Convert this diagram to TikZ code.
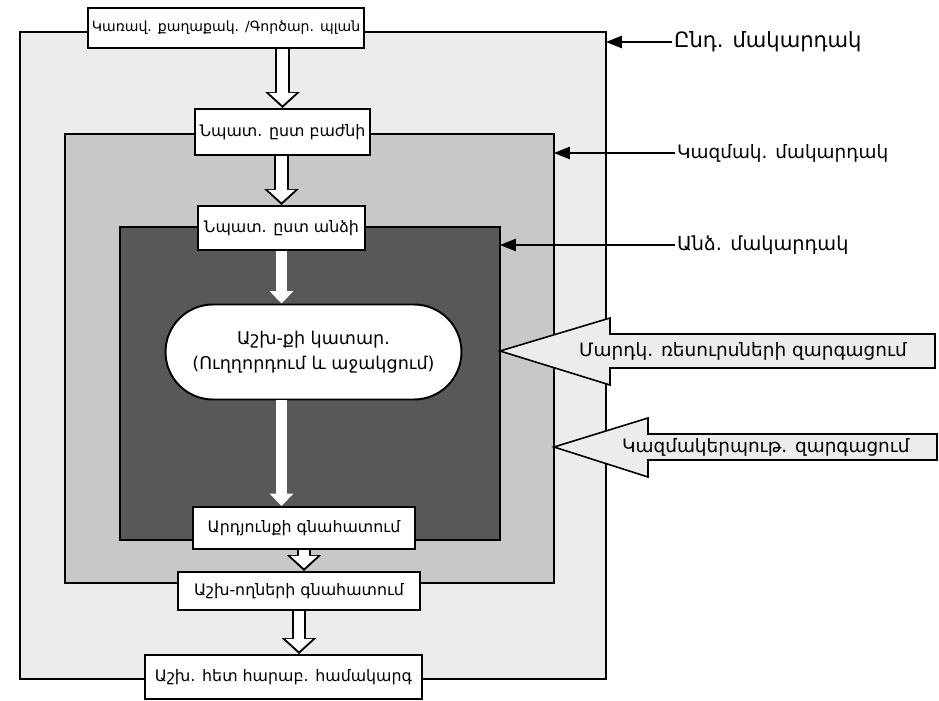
\documentclass[tikz,border=0pt]{standalone}
\usepackage{fontspec}
\setmainfont{DejaVu Sans}
\usetikzlibrary{arrows.meta,positioning,shapes.misc}
\definecolor{lvOuter}{RGB}{236,236,236}
\definecolor{lvMid}{RGB}{200,200,200}
\definecolor{lvInner}{RGB}{88,88,88}

\begin{document}
\begin{tikzpicture}[
  x=0.2mm, y=-0.2mm,
  font=\fontsize{9}{11}\selectfont,
  lvl/.style={draw=black, line width=1pt, inner sep=0pt, outer sep=0pt},
  box/.style={draw=black, line width=1.1pt, fill=white, inner sep=2pt, align=center},
  hol/.style={draw=black, line width=8pt, -{Triangle[width=19pt,length=9pt]},
              postaction={draw=white, line width=6pt, shorten >=1.6pt,
                          -{Triangle[width=15pt,length=7pt]}}},
  wht/.style={draw=white, line width=6pt, -{Triangle[width=13pt,length=7pt]}},
  ptr/.style={-{Triangle[width=7pt,length=9pt]}, line width=0.6pt},
  tag/.style={anchor=west, inner sep=1pt, font=\fontsize{10.5}{12}\selectfont},
  blk/.style={draw=black, line width=0.9pt, fill=lvOuter},
  blktxt/.style={anchor=west, inner sep=1pt, font=\fontsize{10.5}{12}\selectfont}
]
\useasboundingbox (0,0) rectangle (939,701);

% levels
\node[lvl, fill=lvOuter, minimum width=117.2mm, minimum height=129.4mm] (outer) at (313,355.5) {};
\node[lvl, fill=lvMid, minimum width=97.8mm, minimum height=89.8mm] (mid) at (309.5,358.5) {};
\node[lvl, fill=lvInner, minimum width=76mm, minimum height=62.6mm] (inner) at (310,383.5) {};

% boxes
\node[box, minimum width=51.6mm, minimum height=8mm, font=\fontsize{8}{10}\selectfont] (gov) at (226,28) {Կառավ. քաղաքակ. /Գործար. պլան};
\node[box, minimum width=35mm, minimum height=9.2mm] (dept) at (282.5,132) {Նպատ. ըստ բաժնի};
\node[box, minimum width=33.4mm, minimum height=8.8mm] (pers) at (281.5,228) {Նպատ. ըստ անձի};
\node[box, rounded rectangle, minimum width=60.6mm, minimum height=19mm, font=\fontsize{10}{14}\selectfont] (work) at (313.5,352) {Աշխ-քի կատար.\\(Ուղղորդում և աջակցում)};
\node[box, minimum width=44.4mm, minimum height=8.4mm] (res) at (304,528) {Արդյունքի գնահատում};
\node[box, minimum width=48.4mm, minimum height=7.6mm] (empl) at (299,591) {Աշխ-ողների գնահատում};
\node[box, minimum width=55.4mm, minimum height=8.8mm] (rel) at (283.5,677) {Աշխ. հետ հարաբ. համակարգ};

% flow
\draw[hol] (dept.north |- gov.south) -- (dept.north);
\draw[hol] (pers.north |- dept.south) -- (pers.north);
\draw[wht] (pers.south) -- (pers.south |- work.north);
\draw[wht] (pers.south |- work.south) -- (pers.south |- res.north);
\draw[hol] (res.south) -- (res.south |- empl.north);
\draw[hol] (empl.south) -- (empl.south |- rel.north);

% level tags
\node[tag, font=\fontsize{12}{14}\selectfont] (tA) at (672,42) {Ընդ. մակարդակ};
\node[tag] (tB) at (675,153) {Կազմակ. մակարդակ};
\node[tag, font=\fontsize{11}{13}\selectfont] (tC) at (675,245) {Անձ. մակարդակ};
\draw[ptr] (tA.west) -- (tA.west -| outer.east);
\draw[ptr] (tB.west) -- (tB.west -| mid.east);
\draw[ptr] (tC.west) -- (tC.west -| inner.east);

% development arrows
\coordinate (hrTip) at (inner.east |- 0,351);
\draw[blk] (hrTip) -- (610,318) -- (610,334) -- (935,334) -- (935,368) -- (610,368) -- (610,385) -- cycle;
\node[blktxt] (hr) at (577,351) {Մարդկ. ռեսուրսների զարգացում};
\coordinate (orgTip) at (mid.east |- 0,447);
\draw[blk] (orgTip) -- (648,418) -- (648,434) -- (937,434) -- (937,460) -- (648,460) -- (648,477) -- cycle;
\node[blktxt] (org) at (620,447) {Կազմակերպութ. զարգացում};

\end{tikzpicture}
\end{document}
